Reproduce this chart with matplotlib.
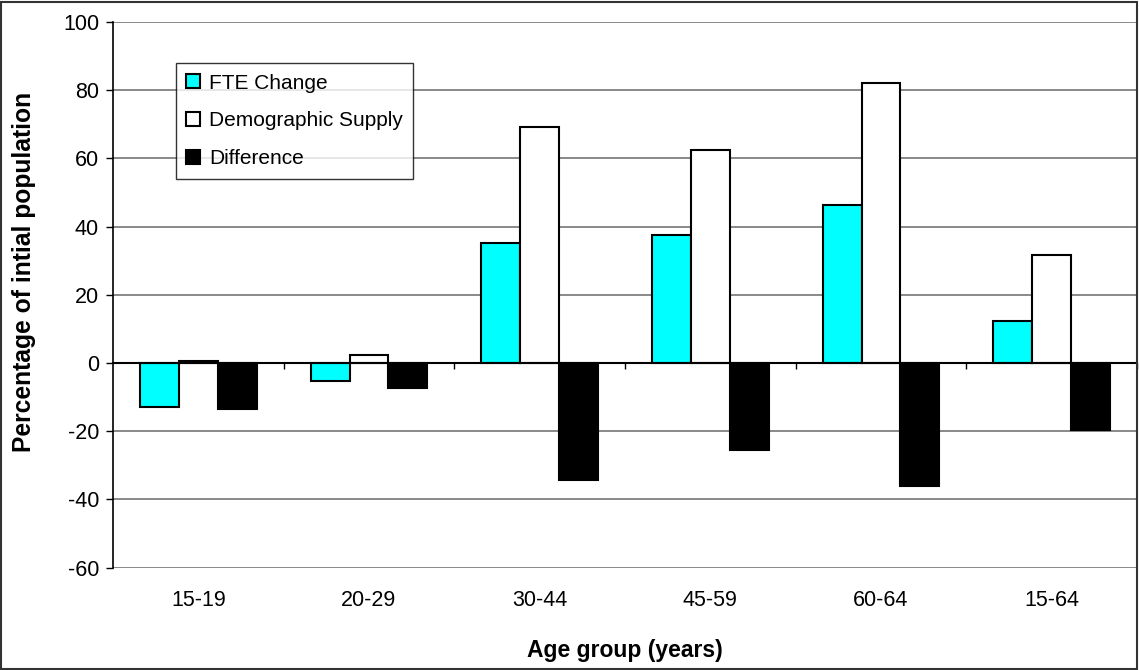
import numpy as np
import matplotlib
matplotlib.use("Agg")
import matplotlib.pyplot as plt
from matplotlib.patches import Rectangle

plt.rcParams["font.family"] = ["Liberation Sans", "DejaVu Sans"]
plt.rcParams["axes.unicode_minus"] = False

grupos = ["15-19", "20-29", "30-44", "45-59", "60-64", "15-64"]
fte_change = [-12.8, -5.3, 35.1, 37.5, 46.3, 12.2]
demo_supply = [0.7, 2.5, 69.1, 62.6, 82.0, 31.6]
difference = [-13.6, -7.2, -34.3, -25.5, -36.0, -19.6]

COLOR_FTE = "#00FFFF"
ANCHO = 0.228

fig = plt.figure(figsize=(11.39, 6.70), dpi=100)
ax = fig.add_axes([113 / 1139, 1 - 567.7 / 670, (1137 - 113) / 1139, (567.7 - 22) / 670])

x = np.arange(len(grupos))
ax.bar(x - ANCHO, fte_change, ANCHO, color=COLOR_FTE, edgecolor="black", linewidth=1.5,
       label="FTE Change", zorder=3)
ax.bar(x, demo_supply, ANCHO, color="white", edgecolor="black", linewidth=1.5,
       label="Demographic Supply", zorder=3)
ax.bar(x + ANCHO, difference, ANCHO, color="black", edgecolor="black", linewidth=1.5,
       label="Difference", zorder=3)

ax.set_ylim(-60, 100)
ax.set_xlim(-0.5, 5.475)
ax.set_yticks(np.arange(-60, 101, 20))
ax.yaxis.grid(True, color="#808080", linewidth=1.3, zorder=0)
ax.set_axisbelow(True)
ax.tick_params(axis="y", direction="out", length=5, width=1, labelsize=15.5, pad=5)

for s in ["top", "right"]:
    ax.spines[s].set_visible(False)
ax.spines["left"].set_linewidth(1.2)
ax.spines["bottom"].set_position(("data", 0))
ax.spines["bottom"].set_linewidth(1.5)
ax.spines["bottom"].set_zorder(4)
ax.set_xticks(np.arange(len(grupos)) + 0.5)
ax.set_xticklabels([])
ax.tick_params(axis="x", direction="out", length=4, width=1)

sec = ax.secondary_xaxis("bottom")
sec.set_xticks(x)
sec.set_xticklabels(grupos)
sec.tick_params(length=0, labelsize=15.5, pad=16)
sec.spines["bottom"].set_visible(False)
sec.set_xlabel("Age group (years)", fontsize=16.5, fontweight="bold", labelpad=20)

ax.set_ylabel("Percentage of intial population", fontsize=17.7, fontweight="bold")
ax.yaxis.set_label_coords(-0.075, 0.542)

leg = ax.legend(loc="upper left", bbox_to_anchor=((175.7 - 113) / 1024, 1 - (63.3 - 22) / 545.7),
                fontsize=15, frameon=True, fancybox=False, edgecolor="black",
                handlelength=0.65, handleheight=0.65, handletextpad=0.45,
                labelspacing=0.9, borderpad=0.5, borderaxespad=0)
leg.get_frame().set_linewidth(1.0)

fig.patches.append(Rectangle((0.001, 0.002), 0.997, 0.995, transform=fig.transFigure,
                             fill=False, edgecolor="#333333", linewidth=1.5))

fig.savefig("out.png", dpi=100)
